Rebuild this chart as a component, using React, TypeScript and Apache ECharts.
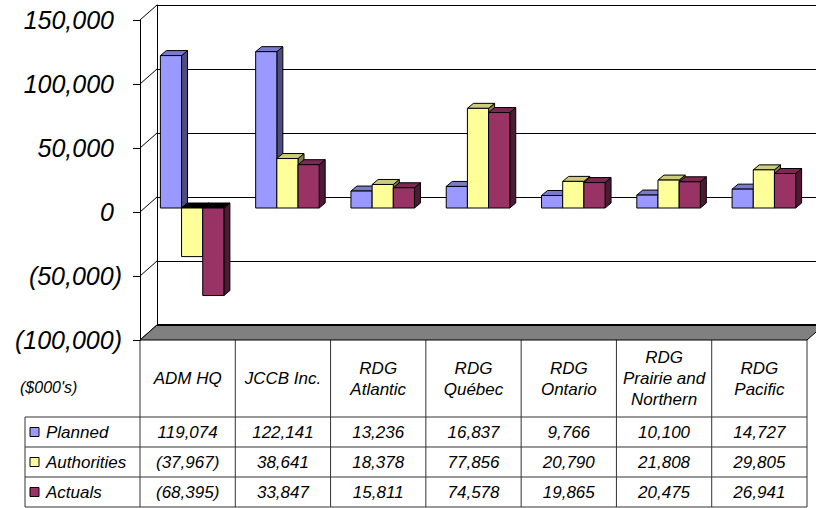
import React, { useEffect, useRef } from "react";
import * as echarts from "echarts";

// ---- data -------------------------------------------------------------
const CATEGORIES = [
  "ADM HQ",
  "JCCB Inc.",
  "RDG Atlantic",
  "RDG Québec",
  "RDG Ontario",
  "RDG Prairie and Northern",
  "RDG Pacific",
];
const CATEGORY_LABELS = [
  "ADM HQ",
  "JCCB Inc.",
  "RDG\nAtlantic",
  "RDG\nQuébec",
  "RDG\nOntario",
  "RDG\nPrairie and\nNorthern",
  "RDG\nPacific",
];
const SERIES_NAMES = ["Planned", "Authorities", "Actuals"];
const PLANNED = [119074, 122141, 13236, 16837, 9766, 10100, 14727];
const AUTHORITIES = [-37967, 38641, 18378, 77856, 20790, 21808, 29805];
const ACTUALS = [-68395, 33847, 15811, 74578, 19865, 20475, 26941];
const Y_MIN = -100000;
const Y_MAX = 150000;
const Y_STEP = 50000;
const UNIT_LABEL = "($000's)";

// ---- styling ------------------------------------------------------------
const FRONT = ["#9999FF", "#FFFF99", "#993366"];
const TOP = ["#7A7ACC", "#CCCC7A", "#7A2952"];
const SIDE = ["#4D4D80", "#80804D", "#4D1A33"];
const FONT = '"Liberation Sans", Arial, sans-serif';

// plot geometry (front plane, wall depth, bar depth)
const PLOT_LEFT = 140;
const PLOT_TOP = 20;
const PLOT_W = 667;
const PLOT_H = 320;
const WALL_DX = 17;
const WALL_DY = -15;
const BAR_SHIFT_X = 4.5;
const BAR_SHIFT_Y = -4;
const BAR_DX = 6;
const BAR_DY = -5;

// table geometry
const TABLE_LEFT = 25;
const HEADER_BOTTOM = 417;
const ROW_H = 30;

const fmt = (v: number) =>
  v < 0 ? `(${Math.abs(v).toLocaleString("en-US")})` : v.toLocaleString("en-US");

function buildTable(): any[] {
  const els: any[] = [];
  const top = PLOT_TOP + PLOT_H;
  const colW = PLOT_W / CATEGORIES.length;
  const bottom = HEADER_BOTTOM + ROW_H * SERIES_NAMES.length;
  const lineStyle = { stroke: "#333", lineWidth: 1 };
  const textBase = {
    fontFamily: FONT,
    fontStyle: "italic",
    fontSize: 17,
    fill: "#000",
    align: "center",
    verticalAlign: "middle",
    lineHeight: 21,
  };

  // vertical column boundaries
  for (let i = 0; i <= CATEGORIES.length; i++) {
    const x = PLOT_LEFT + i * colW;
    els.push({ type: "line", shape: { x1: x, y1: top, x2: x, y2: bottom }, style: lineStyle });
  }
  // row boundaries
  for (let r = 0; r <= SERIES_NAMES.length; r++) {
    const y = HEADER_BOTTOM + r * ROW_H;
    els.push({
      type: "line",
      shape: { x1: TABLE_LEFT, y1: y, x2: PLOT_LEFT + PLOT_W, y2: y },
      style: lineStyle,
    });
  }
  els.push({
    type: "line",
    shape: { x1: TABLE_LEFT, y1: HEADER_BOTTOM, x2: TABLE_LEFT, y2: bottom },
    style: lineStyle,
  });

  // category headers
  CATEGORY_LABELS.forEach((label, i) => {
    els.push({
      type: "text",
      x: PLOT_LEFT + (i + 0.5) * colW,
      y: (top + HEADER_BOTTOM) / 2,
      style: { ...textBase, text: label },
    });
  });

  // unit label
  els.push({
    type: "text",
    x: 20,
    y: 387,
    style: { ...textBase, fontSize: 16, align: "left", text: UNIT_LABEL },
  });

  // series rows
  const rows = [PLANNED, AUTHORITIES, ACTUALS];
  rows.forEach((vals, r) => {
    const cy = HEADER_BOTTOM + (r + 0.5) * ROW_H;
    els.push({
      type: "rect",
      shape: { x: 30, y: cy - 4.5, width: 9, height: 9 },
      style: { fill: FRONT[r], stroke: "#000", lineWidth: 1 },
    });
    els.push({
      type: "text",
      x: 46,
      y: cy,
      style: { ...textBase, align: "left", text: SERIES_NAMES[r] },
    });
    vals.forEach((v, i) => {
      els.push({
        type: "text",
        x: PLOT_LEFT + (i + 0.5) * colW,
        y: cy,
        style: { ...textBase, text: fmt(v) },
      });
    });
  });
  return els;
}

function barSeries(k: number, values: number[]): any {
  return {
    type: "custom",
    name: SERIES_NAMES[k],
    xAxisIndex: 2,
    yAxisIndex: 2,
    z: 3 + k,
    data: values.map((v, i) => [i, v]),
    encode: { x: 0, y: 1 },
    renderItem: (_params: any, api: any) => {
      const cat = api.value(0);
      const val = api.value(1);
      const base = api.coord([cat, 0]);
      const end = api.coord([cat, val]);
      const band = api.size([1, 0])[0];
      const bw = band / 4.5;
      const x0 = base[0] - 1.5 * bw + k * bw;
      const x1 = x0 + bw;
      const yTop = Math.min(base[1], end[1]);
      const yBot = Math.max(base[1], end[1]);
      const edge = { stroke: "#000", lineWidth: 1 };
      return {
        type: "group",
        children: [
          {
            type: "polygon",
            shape: {
              points: [
                [x1, yTop],
                [x1 + BAR_DX, yTop + BAR_DY],
                [x1 + BAR_DX, yBot + BAR_DY],
                [x1, yBot],
              ],
            },
            style: { fill: SIDE[k], ...edge },
          },
          {
            type: "polygon",
            shape: {
              points: [
                [x0, yTop],
                [x0 + BAR_DX, yTop + BAR_DY],
                [x1 + BAR_DX, yTop + BAR_DY],
                [x1, yTop],
              ],
            },
            style: { fill: val < 0 ? "#000" : TOP[k], ...edge },
          },
          {
            type: "rect",
            shape: { x: x0, y: yTop, width: bw, height: yBot - yTop },
            style: { fill: FRONT[k], ...edge },
          },
        ],
      };
    },
  };
}

function buildOption(): any {
  const ticks: number[] = [];
  for (let v = Y_MIN; v <= Y_MAX; v += Y_STEP) ticks.push(v);

  const valueAxisBase = {
    type: "value",
    min: Y_MIN,
    max: Y_MAX,
    interval: Y_STEP,
  };

  return {
    animation: false,
    backgroundColor: "#fff",
    grid: [
      // back wall
      {
        left: PLOT_LEFT + WALL_DX,
        top: PLOT_TOP + WALL_DY,
        width: PLOT_W,
        height: PLOT_H,
        outerBoundsMode: "none",
      },
      // front plane (value axis + table columns)
      { left: PLOT_LEFT, top: PLOT_TOP, width: PLOT_W, height: PLOT_H, outerBoundsMode: "none" },
      // plane of the bars' front faces
      {
        left: PLOT_LEFT + BAR_SHIFT_X,
        top: PLOT_TOP + BAR_SHIFT_Y,
        width: PLOT_W,
        height: PLOT_H,
        outerBoundsMode: "none",
      },
    ],
    xAxis: [
      { gridIndex: 0, type: "value", min: 0, max: 1, show: false },
      { gridIndex: 1, type: "category", data: CATEGORIES, show: false },
      { gridIndex: 2, type: "category", data: CATEGORIES, show: false },
    ],
    yAxis: [
      {
        ...valueAxisBase,
        gridIndex: 0,
        axisLine: { show: true, lineStyle: { color: "#000", width: 1 } },
        axisTick: { show: false },
        axisLabel: { show: false },
        splitLine: { show: true, lineStyle: { color: "#000", width: 1 } },
      },
      {
        ...valueAxisBase,
        gridIndex: 1,
        axisLine: { show: true, lineStyle: { color: "#000", width: 1 } },
        axisTick: { show: true, inside: false, length: 7, lineStyle: { color: "#000", width: 1 } },
        splitLine: { show: false },
        axisLabel: {
          show: true,
          margin: 18,
          formatter: (v: number) => (v < 0 ? `{neg|${fmt(v)}}` : `{pos|${fmt(v)}}`),
          rich: {
            pos: {
              fontFamily: FONT,
              fontStyle: "italic",
              fontSize: 25,
              color: "#000",
              padding: [0, 8, 0, 0],
            },
            neg: { fontFamily: FONT, fontStyle: "italic", fontSize: 25, color: "#000" },
          },
        },
      },
      { ...valueAxisBase, gridIndex: 2, show: false },
    ],
    graphic: buildTable(),
    series: [
      // side wall: depth lines from the front axis ticks to the back wall gridlines
      {
        type: "custom",
        xAxisIndex: 0,
        yAxisIndex: 0,
        z: 1,
        data: ticks.map((v) => [0, v]),
        renderItem: (_p: any, api: any) => {
          const b = api.coord([0, api.value(1)]);
          return {
            type: "line",
            shape: { x1: b[0], y1: b[1], x2: b[0] - WALL_DX, y2: b[1] - WALL_DY },
            style: { stroke: "#000", lineWidth: 1 },
          };
        },
      },
      // floor
      {
        type: "custom",
        xAxisIndex: 0,
        yAxisIndex: 0,
        z: 2,
        data: [[0, Y_MIN]],
        renderItem: (_p: any, api: any) => {
          const bl = api.coord([0, Y_MIN]);
          const br = api.coord([1, Y_MIN]);
          return {
            type: "group",
            children: [
              {
                type: "polygon",
                shape: {
                  points: [
                    bl,
                    br,
                    [br[0] - WALL_DX, br[1] - WALL_DY],
                    [bl[0] - WALL_DX, bl[1] - WALL_DY],
                  ],
                },
                style: { fill: "#808080", stroke: "#000", lineWidth: 1 },
              },
              {
                type: "line",
                shape: { x1: bl[0], y1: bl[1], x2: br[0], y2: br[1] },
                style: { stroke: "#000", lineWidth: 2 },
              },
            ],
          };
        },
      },
      barSeries(0, PLANNED),
      barSeries(1, AUTHORITIES),
      barSeries(2, ACTUALS),
    ],
  };
}

export default function App() {
  const ref = useRef<HTMLDivElement>(null);
  useEffect(() => {
    if (!ref.current) return;
    const chart = echarts.init(ref.current, undefined, { renderer: "svg" });
    chart.setOption(buildOption());
    return () => chart.dispose();
  }, []);
  return (
    <div
      ref={ref}
      style={{ position: "fixed", left: 0, top: 0, width: 816, height: 508, background: "#fff" }}
    />
  );
}
